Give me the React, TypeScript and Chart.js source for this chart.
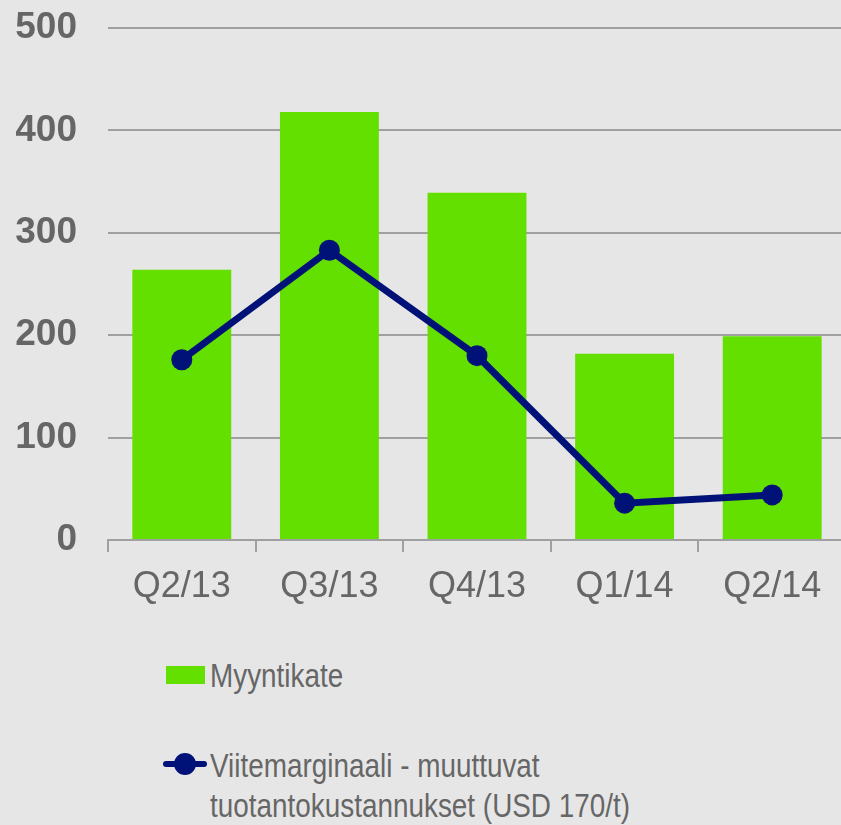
import React, { useEffect, useRef } from "react";
import { Chart, registerables } from "chart.js";

Chart.register(...registerables);

const categories = ["Q2/13", "Q3/13", "Q4/13", "Q1/14", "Q2/14"];
const myyntikate = [264, 418, 339, 182, 199];
const viitemarginaali = [176, 283, 180, 36, 44];
const yTicks = [0, 100, 200, 300, 400, 500];

const GREEN = "#63df00";
const NAVY = "#001278";
const GRID = "#a0a0a0";
const TEXT = "#666666";
const BG = "#e6e6e6";

export default function App() {
  const ref = useRef<HTMLCanvasElement | null>(null);

  useEffect(() => {
    if (!ref.current) return;
    const chart = new Chart(ref.current, {
      type: "bar",
      data: {
        labels: categories,
        datasets: [
          {
            type: "line",
            label: "Viitemarginaali - muuttuvat tuotantokustannukset (USD 170/t)",
            data: viitemarginaali,
            borderColor: NAVY,
            backgroundColor: NAVY,
            borderWidth: 7,
            pointRadius: 10.5,
            pointHoverRadius: 10.5,
            pointBackgroundColor: NAVY,
            pointBorderColor: NAVY,
            pointBorderWidth: 0,
            tension: 0,
            order: 0,
          },
          {
            type: "bar",
            label: "Myyntikate",
            data: myyntikate,
            backgroundColor: GREEN,
            borderWidth: 0,
            barPercentage: 0.67,
            categoryPercentage: 1,
            order: 1,
          },
        ],
      },
      options: {
        animation: false,
        responsive: true,
        maintainAspectRatio: false,
        layout: { autoPadding: false, padding: { left: 16, right: 0, top: 28, bottom: 0 } },
        plugins: {
          legend: { display: false },
          tooltip: { enabled: false },
        },
        scales: {
          x: {
            offset: true,
            afterFit: (scale: any) => {
              scale.height = 82;
              scale.paddingLeft = 0;
              scale.paddingRight = 0;
            },
            grid: {
              display: true,
              offset: true,
              drawOnChartArea: false,
              drawTicks: true,
              tickLength: 12,
              color: GRID,
              lineWidth: 2,
            },
            border: { display: true, color: GRID, width: 2 },
            ticks: {
              color: TEXT,
              padding: 13,
              font: { family: "'Liberation Sans', Arial, sans-serif", size: 36 },
            },
          },
          y: {
            min: 0,
            max: 500,
            afterBuildTicks: (axis: any) => {
              axis.ticks = yTicks.map((v) => ({ value: v }));
            },
            afterFit: (scale: any) => {
              scale.width = 92;
              scale.paddingTop = 0;
              scale.paddingBottom = 0;
            },
            grid: {
              color: GRID,
              lineWidth: 2,
              drawTicks: false,
            },
            border: { display: false },
            ticks: {
              color: TEXT,
              padding: 31,
              font: {
                family: "'Liberation Sans', Arial, sans-serif",
                size: 37,
                weight: "bold",
              },
            },
          },
        },
      },
    });
    return () => chart.destroy();
  }, []);

  const legendFont: React.CSSProperties = {
    position: "absolute",
    left: 210,
    fontFamily: "'Liberation Sans', Arial, sans-serif",
    fontSize: 33,
    lineHeight: "40px",
    color: TEXT,
    whiteSpace: "nowrap",
    transform: "scaleX(0.845)",
    transformOrigin: "0 0",
  };

  return (
    <div
      style={{
        position: "fixed",
        left: 0,
        top: 0,
        width: 841,
        height: 825,
        overflow: "hidden",
        background: BG,
      }}
    >
      <div style={{ position: "absolute", left: 0, top: 0, width: 846, height: 622 }}>
        <canvas ref={ref} />
      </div>
      <div
        style={{
          position: "absolute",
          left: 166,
          top: 666,
          width: 39,
          height: 18,
          background: GREEN,
        }}
      />
      <div style={{ ...legendFont, top: 656 }}>Myyntikate</div>
      <div
        style={{
          position: "absolute",
          left: 163,
          top: 761,
          width: 44,
          height: 6,
          borderRadius: 3,
          background: NAVY,
        }}
      />
      <div
        style={{
          position: "absolute",
          left: 174,
          top: 753,
          width: 22,
          height: 22,
          borderRadius: "50%",
          background: NAVY,
        }}
      />
      <div style={{ ...legendFont, top: 746 }}>
        Viitemarginaali - muuttuvat
        <br />
        tuotantokustannukset (USD 170/t)
      </div>
    </div>
  );
}
